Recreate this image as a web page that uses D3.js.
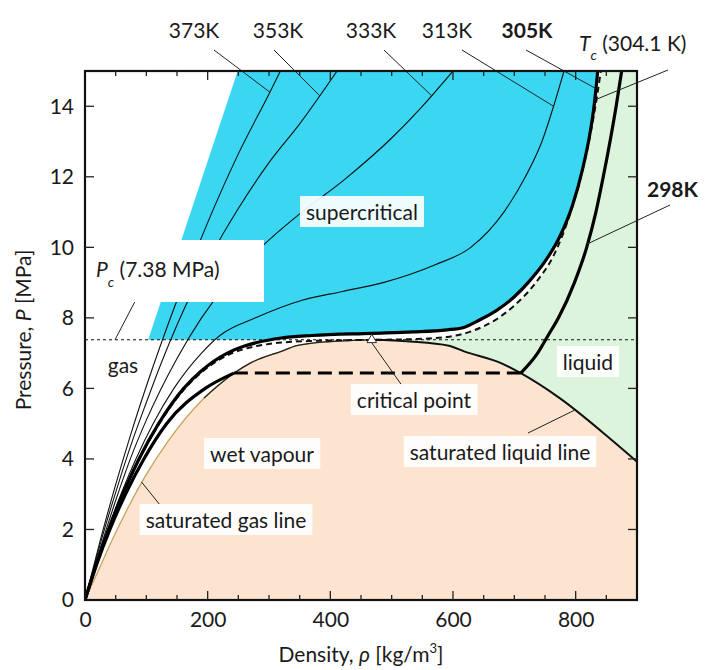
<!DOCTYPE html>
<html><head><meta charset="utf-8">
<script src="https://cdn.jsdelivr.net/npm/d3@7"></script>
<style>
body{margin:0;background:#fff}
text{font-family:Lato,"Open Sans",sans-serif;fill:#1a1a1a}
</style>
</head><body>
<svg id="chart" width="705" height="670"></svg>
<script>
// CO2 phase diagram, pressure vs density. Points are [density kg/m3, pressure MPa].
const critical = [467.6, 7.377];
const pc = 7.38;

// saturation dome
const satGas = [[0,0],[17.6,0.68],[26.1,1.0],[37.1,1.43],[51.7,1.97],[71.2,2.65],[97.6,3.49],[135.2,4.50],[194.2,5.73],[242.7,6.43],[268.6,6.71],[320,7.05],[345.1,7.21],[400,7.33],[467.6,7.377]];
const satLiq = [[467.6,7.377],[530,7.33],[593.3,7.21],[618,7.05],[679.2,6.71],[710.5,6.43],[773.4,5.73],[861.1,4.50],[900,3.92]];

// isotherms
const iso373 = [[0,0],[25,1.7],[50,3.27],[75,4.72],[100,6.06],[150,8.5],[200,10.7],[250,12.65],[300,14.35],[320,15.05]];
const iso353 = [[0,0],[25,1.6],[50,3.05],[75,4.4],[100,5.6],[125,6.75],[150,7.8],[175,8.75],[200,9.6],[250,11.1],[300,12.4],[350,13.5],[411,15.0]];
const iso333 = [[0,0],[25,1.47],[50,2.82],[75,4.05],[100,5.1],[150,6.85],[190,8.0],[240,9.15],[290,10.05],[350,10.95],[425,11.95],[500,13.1],[550,14.0],[600,15.0]];
const iso313 = [[0,0],[17.6,1],[37,2],[58.6,3],[83,4],[111,5],[145,6],[190,7],[220,7.5],[278,8],[354,8.5],[420,8.75],[486,9],[570,9.5],[629,10],[683,11],[718,12],[745,13],[764,14],[781,15]];
const iso305 = [[0,0],[18,1],[38.5,2],[61.5,3],[88,4],[120,5],[161,6],[190,6.5],[232,7.0],[260,7.2],[280,7.3],[320,7.43],[370,7.5],[467,7.56],[535,7.6],[590,7.66],[616,7.72],[643,7.94],[670,8.2],[700,8.6],[725,9.05],[750,9.6],[774,10.3],[795,11.2],[811,12.2],[823,13.2],[830,14.0],[836,15.0]];
const isoTc = [[0,0],[18.1,1],[38.7,2],[62,3],[88.6,4],[121,5],[163,6],[193,6.5],[240,7.0],[280,7.2],[320,7.3],[380,7.35],[467.6,7.377],[540,7.40],[590,7.46],[630,7.62],[670,7.95],[700,8.35],[735,9.0],[765,9.8],[790,10.9],[810,12.1],[825,13.3],[835,14.3],[841,15.0]];
const iso298gas = [[0,0],[18.9,1],[40.6,2],[66,3],[96,4],[133,5],[196,6],[242.7,6.434]];
const iso298liq = [[710.5,6.434],[738,7.0],[755,7.5],[772,8.0],[798,9.0],[818,10.0],[833,11.0],[845,12.0],[856,13.0],[866,14.0],[875,15.0]];
const tieLine298 = [[242.7,6.434],[710.5,6.434]];

// supercritical shading: left edge runs between these two corners
const superLeft = [[103,7.38],[249,15]];

const xTicks = [0,200,400,600,800];
const yTicks = [0,2,4,6,8,10,12,14];

const x = d3.scaleLinear().domain([0,900]).range([85,637]);
const y = d3.scaleLinear().domain([0,15]).range([600,71]);
const svg = d3.select("#chart");

svg.append("defs").append("clipPath").attr("id","plotClip")
  .append("rect").attr("x",85).attr("y",71).attr("width",552).attr("height",529);

const line = d3.line().x(d=>x(d[0])).y(d=>y(d[1])).curve(d3.curveMonotoneX);
const plot = svg.append("g").attr("clip-path","url(#plotClip)");

// density on an isotherm where it reaches pressure p (searching from the dense end)
function rhoAt(iso, p){
  for(let i=iso.length-1;i>0;i--){
    const a=iso[i-1], b=iso[i];
    if((a[1]-p)*(b[1]-p)<=0 && a[1]!==b[1]){
      return a[0]+(p-a[1])/(b[1]-a[1])*(b[0]-a[0]);
    }
  }
  return iso[iso.length-1][0];
}

// wet vapour + compressed liquid below saturated liquid line
const dome = satGas.concat(satLiq.slice(1));
plot.append("path")
  .attr("d", line(dome) + `L${x(900)},${y(0)}L${x(0)},${y(0)}Z`)
  .attr("fill","#fce4d0");

// liquid region
const tcUpper = isoTc.filter(d=>d[0]>=critical[0]);
plot.append("path")
  .attr("d", line(tcUpper) + `L${x(900)},${y(15)}L${x(900)},${y(satLiq[satLiq.length-1][1])}` +
       line(satLiq.slice().reverse()).replace(/^M/,"L") + "Z")
  .attr("fill","#dcf4dc");

// supercritical region
const r305pc = rhoAt(iso305.filter(d=>d[0]<400), pc);
const upper305 = [[r305pc,pc]].concat(iso305.filter(d=>d[0]>r305pc));
plot.append("path")
  .attr("d", `M${x(superLeft[0][0])},${y(superLeft[0][1])}` +
       line(upper305).replace(/^M/,"L") +
       `L${x(superLeft[1][0])},${y(superLeft[1][1])}Z`)
  .attr("fill","#3ad6f2");

// critical pressure
svg.append("line").attr("x1",x(0)).attr("x2",x(900)).attr("y1",y(pc)).attr("y2",y(pc))
  .attr("stroke","#111").attr("stroke-width",1.2).attr("stroke-dasharray","3,3");

// saturation lines
plot.append("path").attr("d",line(satGas)).attr("fill","none").attr("stroke","#c9a25a").attr("stroke-width",1.3);
plot.append("path").attr("d",line(satGas.filter(d=>d[0]>=180))).attr("fill","none").attr("stroke","#222").attr("stroke-width",1.3);
plot.append("path").attr("d",line(satLiq)).attr("fill","none").attr("stroke","#111").attr("stroke-width",2);

// thin isotherms
[iso373,iso353,iso333,iso313].forEach(iso=>{
  plot.append("path").attr("d",line(iso)).attr("fill","none").attr("stroke","#111").attr("stroke-width",1.1);
});
// critical isotherm
plot.append("path").attr("d",line(isoTc)).attr("fill","none").attr("stroke","#111")
  .attr("stroke-width",2).attr("stroke-dasharray","6,4");
// 305 K and 298 K
plot.append("path").attr("d",line(iso305)).attr("fill","none").attr("stroke","#000").attr("stroke-width",3.2);
plot.append("path").attr("d",line(iso298gas)).attr("fill","none").attr("stroke","#000").attr("stroke-width",3.2);
plot.append("path").attr("d",line(iso298liq)).attr("fill","none").attr("stroke","#000").attr("stroke-width",3.2);
plot.append("path").attr("d",d3.line().x(d=>x(d[0])).y(d=>y(d[1]))(tieLine298))
  .attr("fill","none").attr("stroke","#000").attr("stroke-width",3).attr("stroke-dasharray","14,7");

// critical point marker
svg.append("path").attr("d",d3.symbol(d3.symbolTriangle,40)())
  .attr("transform",`translate(${x(critical[0])},${y(critical[1])})`)
  .attr("fill","#fff").attr("stroke","#333").attr("stroke-width",1);

// labelled boxes inside the plot
function boxLabel(txt, cx, by, opts={}){
  const g = svg.append("g");
  const t = g.append("text").attr("x",cx).attr("y",by).attr("text-anchor",opts.anchor||"middle")
    .attr("font-size",opts.size||21).text(txt);
  const bb = t.node().getBBox();
  const p = opts.pad||[6,3];
  g.insert("rect","text").attr("x",bb.x-p[0]).attr("y",bb.y-p[1]).attr("width",bb.width+2*p[0]).attr("height",bb.height+2*p[1])
    .attr("fill","#fff").attr("fill-opacity",opts.op||0.92);
  return g;
}
function leader(x1,y1,x2,y2){
  svg.append("line").attr("x1",x1).attr("y1",y1).attr("x2",x2).attr("y2",y2).attr("stroke","#222").attr("stroke-width",1);
}

// critical pressure label
leader(142,288,x(49),y(pc));
const pcBox = svg.append("g");
pcBox.append("rect").attr("x",88).attr("y",240).attr("width",176).attr("height",62).attr("fill","#fff");
const pcT = pcBox.append("text").attr("x",96).attr("y",277).attr("font-size",21);
pcT.append("tspan").text("P").attr("font-style","italic");
pcT.append("tspan").text("c").attr("font-style","italic").attr("font-size",14).attr("dy",10);
pcT.append("tspan").text(" (7.38 MPa)").attr("dy",-10);

boxLabel("supercritical", 362, 220);
boxLabel("gas", 123, 373);
boxLabel("liquid", 588, 370);
leader(403,387,x(critical[0]),y(critical[1])+3);
boxLabel("critical point", 414, 408);
boxLabel("wet vapour", 262, 462);
leader(528,433,x(798),y(5.38));
boxLabel("saturated liquid line", 500, 460);
leader(160,505,x(92),y(3.35));
boxLabel("saturated gas line", 226, 528);

// isotherm labels above the plot
const topLabels = [
  {t:"373K", cx:194, iso:iso373, p:14.4, from:[214,50]},
  {t:"353K", cx:278, iso:iso353, p:14.3, from:[274,50]},
  {t:"333K", cx:371, iso:iso333, p:14.3, from:[384,50]},
  {t:"313K", cx:447, iso:iso313, p:14.0, from:[462,50]},
  {t:"305K", cx:527, iso:iso305, p:14.5, from:[526,50], bold:true}
];
topLabels.forEach(l=>{
  svg.append("text").attr("x",l.cx).attr("y",38).attr("text-anchor","middle").attr("font-size",21)
    .attr("font-weight",l.bold?"bold":"normal").text(l.t);
  const r = rhoAt(l.iso,l.p);
  leader(l.from[0],l.from[1],x(r),y(l.p));
});
const tcT = svg.append("text").attr("x",579).attr("y",51).attr("font-size",21);
tcT.append("tspan").text("T").attr("font-style","italic");
tcT.append("tspan").text("c").attr("font-style","italic").attr("font-size",14).attr("dy",9);
tcT.append("tspan").text(" (304.1 K)").attr("dy",-9);
leader(668,70,x(rhoAt(isoTc,14.2)),y(14.2));

svg.append("text").attr("x",647).attr("y",197).attr("font-size",21).attr("font-weight","bold").text("298K");
leader(670,205,x(rhoAt(iso298liq,10.1)),y(10.1));

// axes frame and ticks
svg.append("rect").attr("x",85).attr("y",71).attr("width",552).attr("height",529)
  .attr("fill","none").attr("stroke","#111").attr("stroke-width",2.2);
const minorX = d3.range(50,900,50);
const tk = svg.append("g").attr("stroke","#222").attr("stroke-width",1.3);
minorX.forEach(v=>{
  const len = v%200===0 ? 9 : 5;
  tk.append("line").attr("x1",x(v)).attr("x2",x(v)).attr("y1",y(0)).attr("y2",y(0)-len);
  tk.append("line").attr("x1",x(v)).attr("x2",x(v)).attr("y1",y(15)).attr("y2",y(15)+len);
});
yTicks.filter(v=>v>0).forEach(v=>{
  tk.append("line").attr("x1",x(0)).attr("x2",x(0)+9).attr("y1",y(v)).attr("y2",y(v));
  tk.append("line").attr("x1",x(900)).attr("x2",x(900)-9).attr("y1",y(v)).attr("y2",y(v));
});

// tick labels via axis generators
const xAxis = svg.append("g").attr("transform",`translate(0,${y(0)})`)
  .call(d3.axisBottom(x).tickValues(xTicks).tickSize(0).tickPadding(12));
const yAxis = svg.append("g").attr("transform",`translate(${x(0)},0)`)
  .call(d3.axisLeft(y).tickValues(yTicks).tickSize(0).tickPadding(11));
[xAxis,yAxis].forEach(a=>{
  a.select(".domain").remove();
  a.selectAll("text").attr("font-size",21).attr("font-family","Lato,'Open Sans',sans-serif").attr("fill","#1a1a1a");
});

// axis titles
const xt = svg.append("text").attr("x",361).attr("y",662).attr("text-anchor","middle").attr("font-size",21);
xt.append("tspan").text("Density, ");
xt.append("tspan").text("ρ").attr("font-style","italic");
xt.append("tspan").text(" [kg/m");
xt.append("tspan").text("3").attr("font-size",13).attr("dy",-9);
xt.append("tspan").text("]").attr("dy",9);

const yt = svg.append("text").attr("transform","translate(31,330) rotate(-90)").attr("text-anchor","middle").attr("font-size",21);
yt.append("tspan").text("Pressure, ");
yt.append("tspan").text("P").attr("font-style","italic");
yt.append("tspan").text(" [MPa]");
</script>
</body></html>
